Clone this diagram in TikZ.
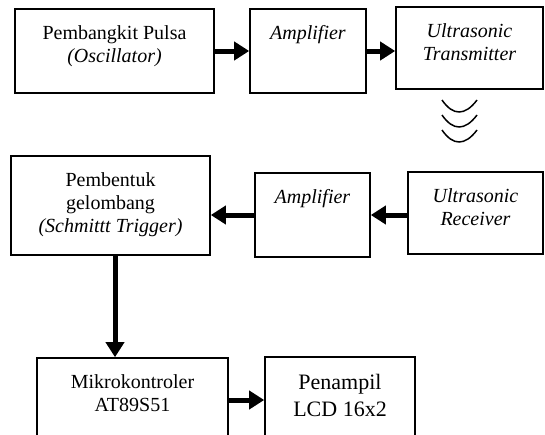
\documentclass[tikz,border=0pt]{standalone}
\usepackage{fontspec}
\setmainfont{Liberation Serif}
\usetikzlibrary{arrows.meta,calc,positioning}

\begin{document}
\begin{tikzpicture}[x=1pt, y=-1pt, >={Triangle[length=15pt,width=18pt]},
  blok/.style={draw, line width=1.6pt, inner sep=0pt},
  teks/.style={anchor=north, align=center, inner sep=0pt, yshift=-17.5pt,
               font=\fontsize{20}{23}\selectfont},
  panah/.style={->, line width=5pt},
  gelombang/.style={line width=1.5pt}]

\clip (0,0) rectangle (545,434);

% ---- Baris atas: pemancar ----
\node[blok, minimum width=199pt, minimum height=84pt,
      label={[teks]north:{Pembangkit Pulsa\\\textit{(Oscillator)}}}] (osc) at (114.5, 51) {};
\node[blok, minimum width=116pt, minimum height=84pt,
      label={[teks]north:{\textit{Amplifier}}}] (ampA) at (308, 51) {};
\node[blok, minimum width=147pt, minimum height=82pt,
      label={[teks]north:{\textit{Ultrasonic}\\\textit{Transmitter}}}] (tx) at (469.5, 48) {};

\draw[panah] (osc.east) -- (osc.east -| ampA.west);
\draw[panah] (ampA.east) -- (ampA.east -| tx.west);

% ---- Gelombang ultrasonik ----
\foreach \y in {100,115,130}
  \draw[gelombang] (442,\y) .. controls (453,\y+16) and (465,\y+16) .. (477,\y);

% ---- Baris tengah: penerima ----
\node[blok, minimum width=199pt, minimum height=99pt,
      label={[teks]north:{Pembentuk\\gelombang\\\textit{(Schmittt Trigger)}}}] (schmitt) at (110.5, 205.5) {};
\node[blok, minimum width=115pt, minimum height=84pt,
      label={[teks]north:{\textit{Amplifier}}}] (ampB) at (312.5, 215) {};
\node[blok, minimum width=135pt, minimum height=82pt,
      label={[teks]north:{\textit{Ultrasonic}\\\textit{Receiver}}}] (rx) at (475.5, 213) {};

\draw[panah] (ampB.east -| rx.west) -- (ampB.east);
\draw[panah] (ampB.west) -- (ampB.west -| schmitt.east);

% ---- Baris bawah: pengolah dan tampilan ----
\node[blok, minimum width=191pt, minimum height=84pt,
      label={[teks]north:{Mikrokontroler\\AT89S51}}] (mikro) at (132.5, 400) {};
\node[blok, minimum width=150pt, minimum height=86pt,
      label={[teks, font=\fontsize{22}{27}\selectfont]north:{Penampil\\LCD 16x2}}] (lcd) at (340, 400) {};

\draw[panah] ([xshift=4.5pt]schmitt.south) -- ([xshift=4.5pt]schmitt.south |- mikro.north);
\draw[panah] (mikro.east) -- (mikro.east -| lcd.west);

\end{tikzpicture}
\end{document}
